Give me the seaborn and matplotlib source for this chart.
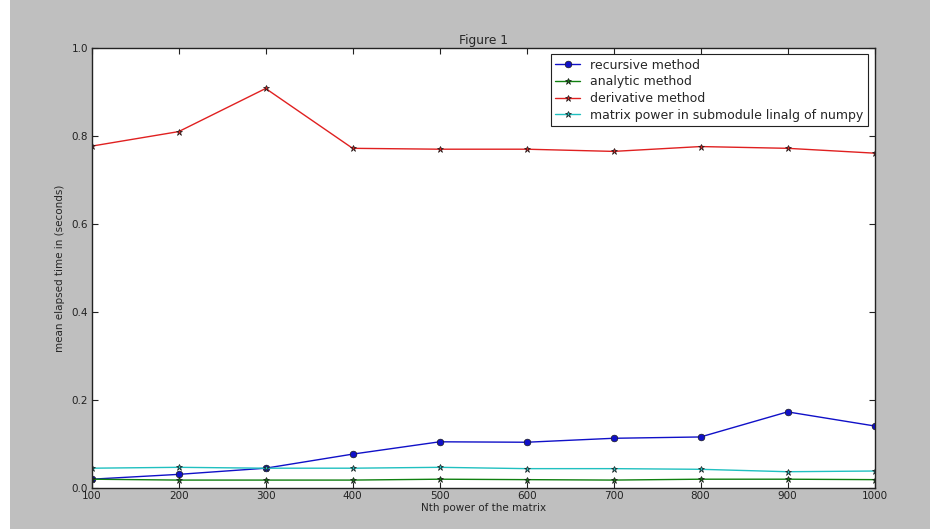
import matplotlib
matplotlib.use("Agg")
import matplotlib.pyplot as plt
import seaborn as sns
import pandas as pd

# =========================
# DATA
# =========================
powers = [100, 200, 300, 400, 500, 600, 700, 800, 900, 1000]
recursive = [0.020, 0.031, 0.045, 0.077, 0.105, 0.104, 0.113, 0.116, 0.173, 0.141]
analytic = [0.020, 0.018, 0.018, 0.018, 0.020, 0.019, 0.018, 0.020, 0.020, 0.019]
derivative = [0.777, 0.810, 0.908, 0.772, 0.770, 0.770, 0.765, 0.776, 0.772, 0.761]
matrix_power = [0.045, 0.047, 0.045, 0.045, 0.047, 0.044, 0.044, 0.0425, 0.037, 0.0386]

series = [
    ("recursive method", recursive, "#1010c8", "o"),
    ("analytic method", analytic, "#108010", "*"),
    ("derivative method", derivative, "#e02020", "*"),
    ("matrix power in submodule linalg of numpy", matrix_power, "#20c0c0", "*"),
]

# =========================
# STYLE (old matplotlib look)
# =========================
sns.set_style("ticks")
plt.rcParams["font.family"] = ["DejaVu Sans"]
plt.rcParams["font.size"] = 7.5
plt.rcParams["xtick.direction"] = "in"
plt.rcParams["ytick.direction"] = "in"
plt.rcParams["xtick.top"] = True
plt.rcParams["ytick.right"] = True

fig = plt.figure(figsize=(9.3, 5.29), dpi=100, facecolor="#bfbfbf")
# white strip on the left edge of the screenshot
fig.patches.append(plt.Rectangle((0, 0), 10 / 930, 1, transform=fig.transFigure,
                                 facecolor="white", edgecolor="none", zorder=-1))
ax = fig.add_axes([91.7 / 930, 1 - 488 / 529, (874.5 - 91.7) / 930, (488 - 48) / 529])
ax.set_facecolor("white")

for name, vals, col, mk in series:
    df = pd.DataFrame({"x": powers, "y": vals})
    sns.lineplot(data=df, x="x", y="y", ax=ax, color=col, marker=mk,
                 markersize=4.8 if mk == "o" else 5, markeredgecolor="#1a1a1a",
                 markeredgewidth=0.5, linewidth=1, label=name)

ax.set_xlim(100, 1000)
ax.set_ylim(0, 1.0)
ax.set_xticks(powers)
ax.set_yticks([0.0, 0.2, 0.4, 0.6, 0.8, 1.0])
ax.set_yticklabels(["0.0", "0.2", "0.4", "0.6", "0.8", "1.0"])
ax.tick_params(length=4, width=0.8, colors="#222222", labelsize=7.5, pad=2.5)
for s in ax.spines.values():
    s.set_color("#222222")
    s.set_linewidth(1)

ax.set_title("Figure 1", fontsize=8.8, pad=3)
ax.set_xlabel("Nth power of the matrix", fontsize=7.5, labelpad=1)
ax.set_ylabel("mean elapsed time in (seconds)", fontsize=7.5, labelpad=5)

leg = ax.legend(loc="upper right", bbox_to_anchor=(0.9917, 0.986), borderaxespad=0,
                fancybox=False, framealpha=1, edgecolor="#222222", fontsize=9.0,
                borderpad=0.35, labelspacing=0.3, handlelength=2.0)
leg.get_frame().set_linewidth(0.8)

fig.savefig("out.png", dpi=100, facecolor=fig.get_facecolor())
